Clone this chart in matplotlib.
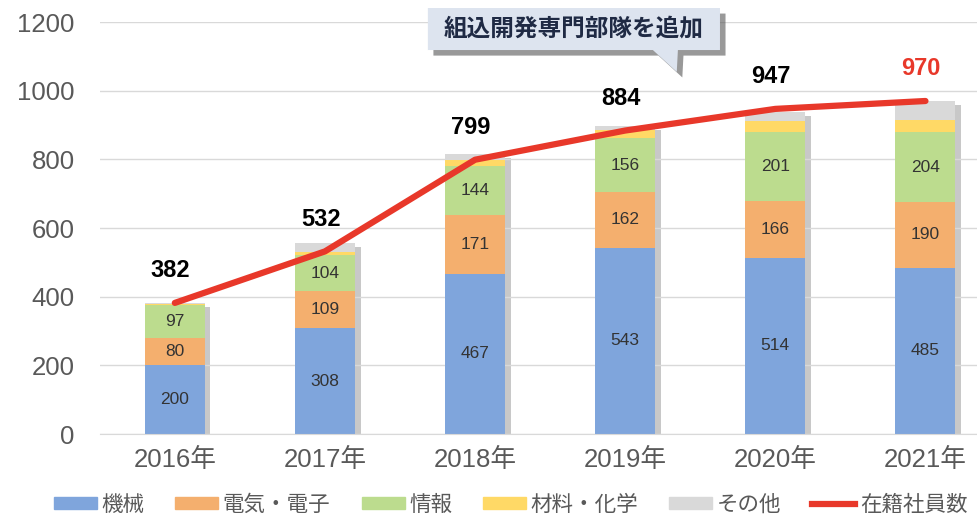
import matplotlib
matplotlib.use('Agg')
import matplotlib.pyplot as plt
import matplotlib.patheffects as pe
from matplotlib.lines import Line2D
from matplotlib.patches import Patch, Polygon
import numpy as np

plt.rcParams['font.family'] = ['Liberation Sans', 'Noto Sans CJK JP', 'DejaVu Sans']

years = ['2016年', '2017年', '2018年', '2019年', '2020年', '2021年']
kikai = [200, 308, 467, 543, 514, 485]
denki = [80, 109, 171, 162, 166, 190]
joho = [97, 104, 144, 156, 201, 204]
zairyo = [3, 10, 15, 25, 31, 36]
sonota = [2, 25, 20, 12, 27, 56]
total = [382, 532, 799, 884, 947, 970]

series = [
    ('機械', kikai, '#7FA5DC', True),
    ('電気・電子', denki, '#F4AF6E', True),
    ('情報', joho, '#BCDC8E', True),
    ('材料・化学', zairyo, '#FFD966', False),
    ('その他', sonota, '#D9D9D9', False),
]

fig = plt.figure(figsize=(9.78, 5.18), dpi=100)
ax = fig.add_axes([0.102, 0.162, 0.898, 0.7955])

x = np.arange(len(years))
stack = np.sum([s[1] for s in series], axis=0)

# drop shadow behind each whole stack
sh = ax.bar(x, stack, 0.4, color='white', zorder=1.5)
for b in sh:
    b.set_path_effects([pe.SimplePatchShadow(offset=(4, -3), shadow_rgbFace='#777777', alpha=0.4)])

bottom = np.zeros(len(years))
for name, vals, color, show in series:
    ax.bar(x, vals, 0.4, bottom=bottom, color=color, zorder=2)
    if show:
        for xi, b0, v in zip(x, bottom, vals):
            ax.text(xi, b0 + v / 2, str(v), ha='center', va='center', fontsize=12.5, color='#333333', zorder=3)
    bottom += np.array(vals)

ax.plot(x, total, color='#E8382A', lw=4.5, solid_capstyle='round', zorder=4)
for xi, t in zip(x, total):
    col = '#E8382A' if xi == len(x) - 1 else 'black'
    ax.annotate(str(t), (xi, t), xytext=(-3, 15), textcoords='offset points', ha='center', va='bottom',
                fontsize=17, fontweight='bold', color=col, zorder=5)

ax.set_xlim(-0.5, 5.35)
ax.set_ylim(0, 1200)
ax.set_yticks(range(0, 1201, 200))
ax.set_xticks(x)
ax.set_xticklabels(years)
ax.tick_params(axis='both', length=0, labelsize=18.5, colors='#595959')
ax.tick_params(axis='x', pad=10)
ax.tick_params(axis='y', pad=18)
ax.grid(axis='y', color='#D9D9D9', lw=1, zorder=0)
for s in ['left', 'right', 'top']:
    ax.spines[s].set_visible(False)
ax.spines['bottom'].set_color('#D9D9D9')

# callout box with pointer (axes fraction coordinates)
callout = Polygon([(0.3736, 1.034), (0.7062, 1.034), (0.7062, 0.932), (0.6583, 0.932),
                   (0.657, 0.879), (0.6298, 0.932), (0.3736, 0.932)],
                  closed=True, transform=ax.transAxes, fc='#DDE4EF', ec='none', clip_on=False, zorder=6)
callout.set_path_effects([pe.SimplePatchShadow(offset=(4, -4), shadow_rgbFace='#555555', alpha=0.6), pe.Normal()])
ax.add_patch(callout)
ax.text(0.54, 0.983, '組込開発専門部隊を追加', transform=ax.transAxes, ha='center', va='center',
        fontsize=17, fontweight='bold', color='#1F2A44', zorder=7)

handles = [Patch(color=c, label=n) for n, _, c, _ in series]
handles.append(Line2D([0], [0], color='#E8382A', lw=4.5, label='在籍社員数'))
fig.legend(handles=handles, loc='lower center', bbox_to_anchor=(0.522, -0.033), ncol=6, frameon=False,
           fontsize=15.5, handlelength=2.0, handleheight=0.45, columnspacing=1.45, handletextpad=0.2,
           labelcolor='#595959')

fig.savefig('out.png', dpi=100)
plt.close(fig)
